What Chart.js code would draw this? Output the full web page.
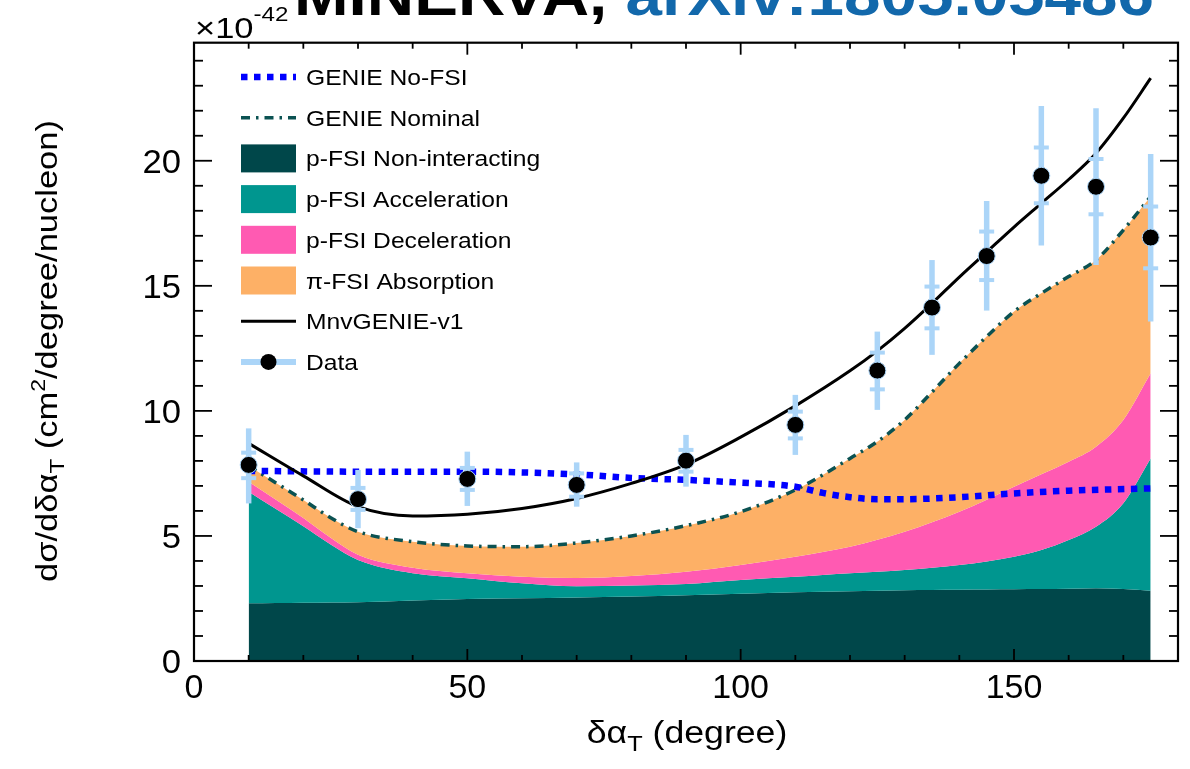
<!DOCTYPE html>
<html>
<head>
<meta charset="utf-8">
<title>MINERvA δα_T cross section</title>
<script src="https://cdn.jsdelivr.net/npm/chart.js@4.4.1/dist/chart.umd.min.js"></script>
<style>
  html, body { margin: 0; padding: 0; background: #ffffff; }
  #wrap { width: 1190px; height: 769px; position: relative; }
</style>
</head>
<body>
<div id="wrap"><canvas id="c" width="1190" height="769"></canvas></div>
<script>
// ---------------- data (units of 1e-42 cm^2/degree/nucleon) ----------------
const xMajorTicks = [0, 50, 100, 150];
const yMajorTicks = [0, 5, 10, 15, 20];
const xMinorStep = 10;
const yMinorStep = 1;
const xRange = [0, 180];
const yRange = [0, 24.72];

// stacked GENIE components along δα_T
const stackX = [10, 15, 20, 25, 30, 40, 50, 60, 70, 80, 90, 100, 110, 115, 120, 125, 130, 135, 140, 145, 150, 155, 160, 165, 170, 175];
const nonInteracting = [2.31, 2.32, 2.33, 2.34, 2.35, 2.42, 2.48, 2.51, 2.54, 2.58, 2.63, 2.69, 2.75, 2.77, 2.79, 2.81, 2.83, 2.84, 2.85, 2.86, 2.87, 2.88, 2.89, 2.91, 2.88, 2.81];
const acceleration = [4.46, 3.76, 3.06, 2.32, 1.69, 1.09, 0.83, 0.60, 0.45, 0.44, 0.45, 0.55, 0.62, 0.67, 0.72, 0.76, 0.81, 0.89, 0.99, 1.12, 1.30, 1.56, 1.95, 2.46, 3.43, 5.29];
const deceleration = [0.40, 0.37, 0.33, 0.27, 0.21, 0.22, 0.20, 0.26, 0.33, 0.38, 0.49, 0.60, 0.80, 0.92, 1.06, 1.28, 1.53, 1.82, 2.13, 2.47, 2.80, 3.03, 3.13, 3.20, 3.33, 3.40];
const absorption = [0.63, 0.67, 0.72, 0.80, 0.92, 1.04, 1.09, 1.20, 1.40, 1.60, 1.84, 2.13, 2.67, 3.08, 3.53, 3.92, 4.47, 5.20, 5.93, 6.52, 7.00, 7.23, 7.40, 7.46, 7.59, 7.07];

// GENIE without final-state interactions
const noFsiX = [10, 30, 50, 70, 80, 90, 100, 110, 115, 120, 125, 130, 140, 150, 160, 175];
const noFsiY = [7.60, 7.57, 7.57, 7.46, 7.32, 7.24, 7.13, 6.97, 6.72, 6.55, 6.47, 6.47, 6.55, 6.70, 6.81, 6.90];

// MnvGENIE-v1 prediction
const mnvX = [10, 20, 30, 40, 50, 60, 70, 80, 90, 100, 110, 120, 125, 130, 135, 140, 145, 150, 155, 160, 165, 170, 175];
const mnvY = [8.70, 7.40, 6.17, 5.80, 5.87, 6.10, 6.50, 7.10, 7.85, 8.95, 10.20, 11.60, 12.40, 13.30, 14.30, 15.35, 16.35, 17.35, 18.30, 19.25, 20.30, 21.70, 23.30];

// measured cross section with total (outer) and statistical (inner marks) bands
const dataX = [10, 30, 50, 70, 90, 110, 125, 135, 145, 155, 165, 175];
const dataY = [7.84, 6.47, 7.28, 7.04, 8.01, 9.44, 11.61, 14.13, 16.19, 19.40, 18.96, 16.93];
const totHigh = [9.30, 7.64, 8.37, 7.94, 9.04, 10.64, 13.17, 16.03, 18.39, 22.19, 22.10, 20.27];
const totLow = [6.30, 5.31, 6.20, 6.17, 6.97, 8.24, 10.04, 12.24, 14.01, 16.61, 15.83, 13.57];
const statHigh = [8.33, 6.92, 7.72, 7.50, 8.44, 9.97, 12.33, 14.97, 17.17, 20.53, 20.07, 18.17];
const statLow = [7.31, 6.04, 6.84, 6.57, 7.57, 8.90, 10.86, 13.30, 15.23, 18.30, 17.86, 15.70];

// ---------------- styling ----------------
const FONT = "'Liberation Sans', Arial, Helvetica, sans-serif";
const C_NONINT = '#00474a';
const C_ACCEL = '#00968f';
const C_DECEL = '#ff5ab2';
const C_ABSORB = '#fdb066';
const C_NOMINAL = '#0b5252';
const C_NOFSI = '#0000ff';
const C_ERR = '#abd5f8';
const STRETCH = 1.15;

// cumulative boundaries of the stacked components
const layers = [nonInteracting, acceleration, deceleration, absorption];
const cumulative = [];
let run = stackX.map(() => 0);
layers.forEach(l => { run = run.map((v, i) => v + l[i]); cumulative.push(run.slice()); });
const pts = (xs, ys) => xs.map((x, i) => ({ x, y: ys[i] }));

// ---------------- text helpers ----------------
function drawRich(ctx, segs, x, y, align, sx) {
  // segs: [{t, size, dy, bold, color}]
  ctx.save();
  let total = 0;
  segs.forEach(s => {
    ctx.font = (s.bold ? 'bold ' : '') + s.size + 'px ' + FONT;
    s.w = ctx.measureText(s.t).width * sx;
    total += s.w;
  });
  let cx = align === 'center' ? x - total / 2 : align === 'right' ? x - total : x;
  ctx.textBaseline = 'alphabetic';
  ctx.textAlign = 'left';
  segs.forEach(s => {
    ctx.font = (s.bold ? 'bold ' : '') + s.size + 'px ' + FONT;
    ctx.fillStyle = s.color || '#000';
    ctx.save();
    ctx.translate(cx, y + (s.dy || 0));
    ctx.scale(sx, 1);
    ctx.fillText(s.t, 0, 0);
    ctx.restore();
    cx += s.w;
  });
  ctx.restore();
  return total;
}

// ---------------- plugins ----------------
const errorBars = {
  id: 'errorBars',
  beforeDatasetDraw(chart, args) {
    const ds = chart.data.datasets[args.index];
    if (ds.label !== 'Data') return;
    const { ctx, scales: { x, y } } = chart;
    ctx.save();
    ctx.strokeStyle = C_ERR;
    ctx.lineCap = 'butt';
    dataX.forEach((v, i) => {
      const px = x.getPixelForValue(v);
      ctx.lineWidth = 5.5;
      ctx.beginPath();
      ctx.moveTo(px, y.getPixelForValue(totLow[i]));
      ctx.lineTo(px, y.getPixelForValue(totHigh[i]));
      ctx.stroke();
      ctx.lineWidth = 4;
      [statLow[i], statHigh[i]].forEach(s => {
        const py = y.getPixelForValue(s);
        ctx.beginPath();
        ctx.moveTo(px - 7.5, py);
        ctx.lineTo(px + 7.5, py);
        ctx.stroke();
      });
    });
    ctx.restore();
  }
};

const axisFrame = {
  id: 'axisFrame',
  afterDatasetsDraw(chart) {
    const { ctx, chartArea: a, scales: { x, y } } = chart;
    ctx.save();
    ctx.strokeStyle = '#000';
    ctx.lineWidth = 1.8;
    const seg = (x1, y1, x2, y2) => { ctx.beginPath(); ctx.moveTo(x1, y1); ctx.lineTo(x2, y2); ctx.stroke(); };
    for (let v = xRange[0]; v <= xRange[1] + 1e-9; v += xMinorStep) {
      const px = x.getPixelForValue(v);
      const L = xMajorTicks.includes(v) ? 12 : 6;
      seg(px, a.bottom, px, a.bottom - L);
      seg(px, a.top, px, a.top + L);
    }
    for (let v = yRange[0]; v <= yRange[1] + 1e-9; v += yMinorStep) {
      const py = y.getPixelForValue(v);
      const L = yMajorTicks.includes(v) ? 18 : 9;
      seg(a.left, py, a.left + L, py);
      seg(a.right, py, a.right - L, py);
    }
    ctx.lineWidth = 2.2;
    ctx.strokeRect(a.left, a.top, a.right - a.left, a.bottom - a.top);
    ctx.restore();
  }
};

const legendEntries = [
  { label: 'GENIE No-FSI', kind: 'dots' },
  { label: 'GENIE Nominal', kind: 'dashdot' },
  { label: 'p-FSI Non-interacting', kind: 'box', color: C_NONINT },
  { label: 'p-FSI Acceleration', kind: 'box', color: C_ACCEL },
  { label: 'p-FSI Deceleration', kind: 'box', color: C_DECEL },
  { label: 'π-FSI Absorption', kind: 'box', color: C_ABSORB },
  { label: 'MnvGENIE-v1', kind: 'line' },
  { label: 'Data', kind: 'data' }
];

const annotations = {
  id: 'annotations',
  afterDraw(chart) {
    const { ctx, scales: { x, y } } = chart;

    // tick labels
    xMajorTicks.forEach(v => {
      drawRich(ctx, [{ t: String(v), size: 33 }], x.getPixelForValue(v), 698, 'center', 1.03);
    });
    yMajorTicks.forEach(v => {
      drawRich(ctx, [{ t: String(v), size: 33 }], 181, y.getPixelForValue(v) + 12, 'right', 1.05);
    });

    // exponent
    drawRich(ctx, [{ t: '×10', size: 30 }, { t: '-42', size: 21, dy: -17 }], 195, 38, 'left', STRETCH);

    // axis titles
    drawRich(ctx, [{ t: 'δα', size: 31 }, { t: 'T', size: 22, dy: 8 }, { t: ' (degree)', size: 31 }], 687, 743, 'center', STRETCH);
    ctx.save();
    ctx.translate(57, 351);
    ctx.rotate(-Math.PI / 2);
    drawRich(ctx, [
      { t: 'dσ/dδα', size: 30 }, { t: 'T', size: 21, dy: 7 },
      { t: ' (cm', size: 30 }, { t: '2', size: 20, dy: -12 },
      { t: '/degree/nucleon)', size: 30 }
    ], 0, 0, 'center', STRETCH);
    ctx.restore();

    // heading, mostly above the top edge of the canvas
    drawRich(ctx, [
      { t: 'MINERvA, ', size: 57, bold: true, color: '#000' },
      { t: 'arXiv:1805.05486', size: 57, bold: true, color: '#1268ab' }
    ], 294, 15, 'left', STRETCH);

    // legend
    const lx0 = 241, lx1 = 296, tx = 306, y0 = 77, dy = 40.7;
    legendEntries.forEach((e, i) => {
      const cy = y0 + i * dy;
      ctx.save();
      if (e.kind === 'box') {
        ctx.fillStyle = e.color;
        ctx.fillRect(lx0, cy - 14, lx1 - lx0, 28);
      } else if (e.kind === 'dots') {
        ctx.strokeStyle = C_NOFSI; ctx.lineWidth = 6.5; ctx.setLineDash([6.5, 6.5]);
        ctx.beginPath(); ctx.moveTo(lx0, cy); ctx.lineTo(lx1, cy); ctx.stroke();
      } else if (e.kind === 'dashdot') {
        ctx.strokeStyle = C_NOMINAL; ctx.lineWidth = 3.5; ctx.setLineDash([9, 6, 2.5, 6]);
        ctx.beginPath(); ctx.moveTo(lx0, cy); ctx.lineTo(lx1, cy); ctx.stroke();
      } else if (e.kind === 'line') {
        ctx.strokeStyle = '#000'; ctx.lineWidth = 3;
        ctx.beginPath(); ctx.moveTo(lx0, cy); ctx.lineTo(lx1, cy); ctx.stroke();
      } else if (e.kind === 'data') {
        ctx.strokeStyle = C_ERR; ctx.lineWidth = 6;
        ctx.beginPath(); ctx.moveTo(lx0, cy); ctx.lineTo(lx1, cy); ctx.stroke();
        ctx.fillStyle = '#000';
        ctx.beginPath(); ctx.arc((lx0 + lx1) / 2, cy, 8, 0, Math.PI * 2); ctx.fill();
      }
      ctx.restore();
      drawRich(ctx, [{ t: e.label, size: 22 }], tx, cy + 8, 'left', 1.12);
    });
  }
};

// ---------------- chart ----------------
const areaStyle = (label, color, idx, fill) => ({
  label,
  data: pts(stackX, cumulative[idx]),
  backgroundColor: color,
  borderColor: color,
  borderWidth: 0,
  pointRadius: 0,
  fill,
  cubicInterpolationMode: 'monotone',
  order: 7 - idx
});

new Chart(document.getElementById('c'), {
  type: 'line',
  data: {
    datasets: [
      areaStyle('p-FSI Non-interacting', C_NONINT, 0, 'origin'),
      areaStyle('p-FSI Acceleration', C_ACCEL, 1, '-1'),
      areaStyle('p-FSI Deceleration', C_DECEL, 2, '-1'),
      areaStyle('π-FSI Absorption', C_ABSORB, 3, '-1'),
      {
        label: 'GENIE Nominal',
        data: pts(stackX, cumulative[3]),
        borderColor: C_NOMINAL, borderWidth: 3.5, borderDash: [9, 6, 2.5, 6],
        pointRadius: 0, fill: false, cubicInterpolationMode: 'monotone', order: 3
      },
      {
        label: 'GENIE No-FSI',
        data: pts(noFsiX, noFsiY),
        borderColor: C_NOFSI, borderWidth: 6.5, borderDash: [6.5, 6.5], borderCapStyle: 'butt',
        pointRadius: 0, fill: false, cubicInterpolationMode: 'monotone', order: 2
      },
      {
        label: 'MnvGENIE-v1',
        data: pts(mnvX, mnvY),
        borderColor: '#000', borderWidth: 3,
        pointRadius: 0, fill: false, cubicInterpolationMode: 'monotone', order: 1
      },
      {
        label: 'Data',
        data: pts(dataX, dataY),
        showLine: false,
        pointRadius: 8.5,
        pointBackgroundColor: '#000',
        pointBorderColor: C_ERR,
        pointBorderWidth: 1,
        order: 0
      }
    ]
  },
  options: {
    responsive: false,
    animation: false,
    devicePixelRatio: 1,
    events: [],
    layout: { padding: { left: 194, right: 12, top: 42.7, bottom: 108 } },
    scales: {
      x: { type: 'linear', min: xRange[0], max: xRange[1], display: false },
      y: { type: 'linear', min: yRange[0], max: yRange[1], display: false }
    },
    plugins: {
      legend: { display: false },
      tooltip: { enabled: false },
      filler: { propagate: false }
    }
  },
  plugins: [errorBars, axisFrame, annotations]
});
</script>
</body>
</html>
